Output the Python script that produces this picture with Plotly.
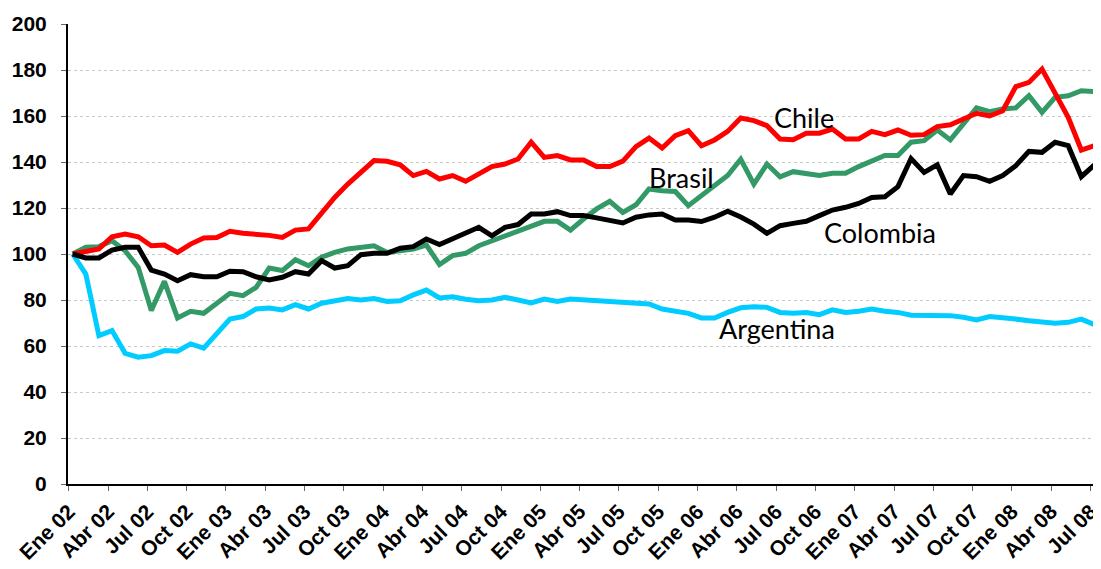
import plotly.graph_objects as go

tick_labels = ["Ene 02", "Abr 02", "Jul 02", "Oct 02", "Ene 03", "Abr 03", "Jul 03", "Oct 03",
               "Ene 04", "Abr 04", "Jul 04", "Oct 04", "Ene 05", "Abr 05", "Jul 05", "Oct 05",
               "Ene 06", "Abr 06", "Jul 06", "Oct 06", "Ene 07", "Abr 07", "Jul 07", "Oct 07",
               "Ene 08", "Abr 08", "Jul 08"]

chile = [100, 101.2, 102.2, 107.5, 108.7, 107.5, 103.6, 103.9, 100.7, 104.3, 107, 107.2, 109.9,
         109, 108.7, 108.1, 107.2, 110.4, 110.9, 118.1, 124.6, 130.4, 135.5, 140.6, 140.3, 138.8,
         134.1, 135.9, 132.6, 134.1, 131.6, 134.5, 138, 139.1, 141.3, 148.6, 142, 142.8, 140.9,
         140.9, 138, 138, 140.4, 146.7, 150.4, 146.1, 151.4, 153.6, 147.1, 149.6, 153.3, 159.1,
         158, 155.8, 150, 149.7, 152.5, 152.5, 154.3, 150, 150, 153.3, 151.9, 153.9, 151.6,
         151.9, 155.4, 156.2, 158.7, 161.2, 160, 162.3, 172.8, 174.6, 180.4, 169.6, 159.4,
         145.2, 147.1]

brasil = [100, 102.9, 103.2, 105.8, 101.4, 94.2, 75.4, 88.1, 72.2, 75.1, 74.2, 78.3, 82.9,
          81.9, 85.5, 93.9, 92.8, 97.5, 94.9, 98.6, 100.7, 102.2, 102.9, 103.6, 100.7, 101.4,
          102.2, 103.9, 95.4, 99.3, 100.3, 103.6, 105.8, 107.5, 109.9, 112, 114.2, 114.2, 110.4,
          115.2, 119.6, 122.9, 118.1, 121.4, 128.3, 127.5, 127.2, 121, 125.4, 129.7, 134.1,
          141.2, 130.4, 139.1, 133.6, 135.8, 135.1, 134.1, 135.1, 135.1, 138, 140.3, 142.8,
          142.8, 148.6, 149.3, 153.9, 149.6, 156.8, 163.5, 161.9, 163, 163.5, 168.8, 161.6,
          168.1, 168.8, 171, 170.6]

colombia = [100, 98.3, 98.3, 101.7, 102.9, 102.9, 93, 91.3, 88.4, 91, 90.1, 90.1, 92.5,
            92.3, 90.1, 88.7, 89.9, 92.3, 91.3, 97.1, 93.9, 94.9, 99.7, 100.3, 100.3, 102.5,
            103.2, 106.5, 104.1, 106.5, 109, 111.6, 107.9, 111.6, 112.8, 117.4, 117.4, 118.4,
            116.7, 116.7, 115.7, 114.8, 113.5, 116, 117, 117.4, 114.8, 114.8, 114.1, 116, 118.6,
            116.1, 113, 109, 112.3, 113.3, 114.2, 116.7, 119.1, 120.3, 122, 124.6, 124.9, 129.3,
            141.5, 135.5, 138.8, 126.1, 134.1, 133.6, 131.6, 134.1, 138.4, 144.6, 144.2, 148.6,
            147.1, 133.6, 138.8]

argentina = [100, 91.3, 64.5, 66.7, 56.8, 55.1, 55.8, 58, 57.7, 60.9, 59.1, 65.2, 71.7,
             72.8, 76.1, 76.5, 75.7, 78, 76.1, 78.6, 79.4, 80.6, 80, 80.6, 79.4, 79.7, 82.2,
             84.3, 80.9, 81.4, 80.3, 79.7, 80, 81.2, 80, 78.7, 80.4, 79.4, 80.4, 80, 79.4, 79,
             78.6, 78.3, 78.3, 76.1, 75.4, 74.2, 72.2, 72.2, 74.6, 76.6, 77.1, 76.8, 74.6, 74.2,
             74.6, 73.6, 75.7, 74.6, 75.1, 76.1, 75.1, 74.6, 73.4, 73.2, 73.5, 73.2, 72.5, 71.3,
             72.8, 72.5, 71.7, 71, 70.3, 69.9, 70.3, 71.7, 69.3]

series_names = ["Argentina", "Brasil", "Chile", "Colombia"]
series_colors = ["#00CCFF", "#339966", "#FF0000", "#000000"]
series_values = [argentina, brasil, chile, colombia]

x = list(range(len(chile)))
# category ticks sit slightly left of the data points, as in the reference
tick_positions = [i - 0.3 for i in range(0, len(chile), 3)]

fig = go.Figure()
for name, color, vals in zip(series_names, series_colors, series_values):
    fig.add_trace(go.Scatter(x=x, y=vals, mode="lines", name=name,
                             line=dict(color=color, width=5), showlegend=False))

label_font = dict(family="Lato, Calibri, sans-serif", size=27, color="#000000")
labels = [("Chile", 55.8, 159.5), ("Brasil", 46.5, 133.3), ("Colombia", 61.6, 109.3),
          ("Argentina", 53.8, 67.5)]
for txt, ax, ay in labels:
    fig.add_annotation(x=ax, y=ay, text=txt, showarrow=False, font=label_font,
                       xanchor="center", yanchor="middle")

tick_font = dict(family="Arial, Liberation Sans, sans-serif", size=21, color="#000000",
                 weight="bold")

# page has an 8px body margin: figure is sized/offset so the plot area lands where the reference has it
fig.update_layout(
    width=1093, height=561,
    margin=dict(l=60, r=2, t=16, b=85),
    paper_bgcolor="white", plot_bgcolor="white",
    xaxis=dict(range=[-0.36, 78.35], tickvals=tick_positions, ticktext=tick_labels,
               tickangle=-45, showgrid=False, zeroline=False, showline=True,
               linecolor="#000000", linewidth=2, ticks="outside", ticklen=5,
               tickcolor="#666666", tickfont=tick_font, automargin=False,
               ticklabeloverflow="allow"),
    yaxis=dict(range=[0, 200], dtick=20, showgrid=True, gridcolor="#C8C8C8",
               griddash="3px,3px", gridwidth=1, zeroline=False, showline=True,
               linecolor="#000000", linewidth=2, ticks="outside", ticklen=5,
               tickcolor="#666666", tickfont=tick_font, ticklabelstandoff=10,
               automargin=False, ticklabeloverflow="allow"),
)

fig.write_html("out.html")
